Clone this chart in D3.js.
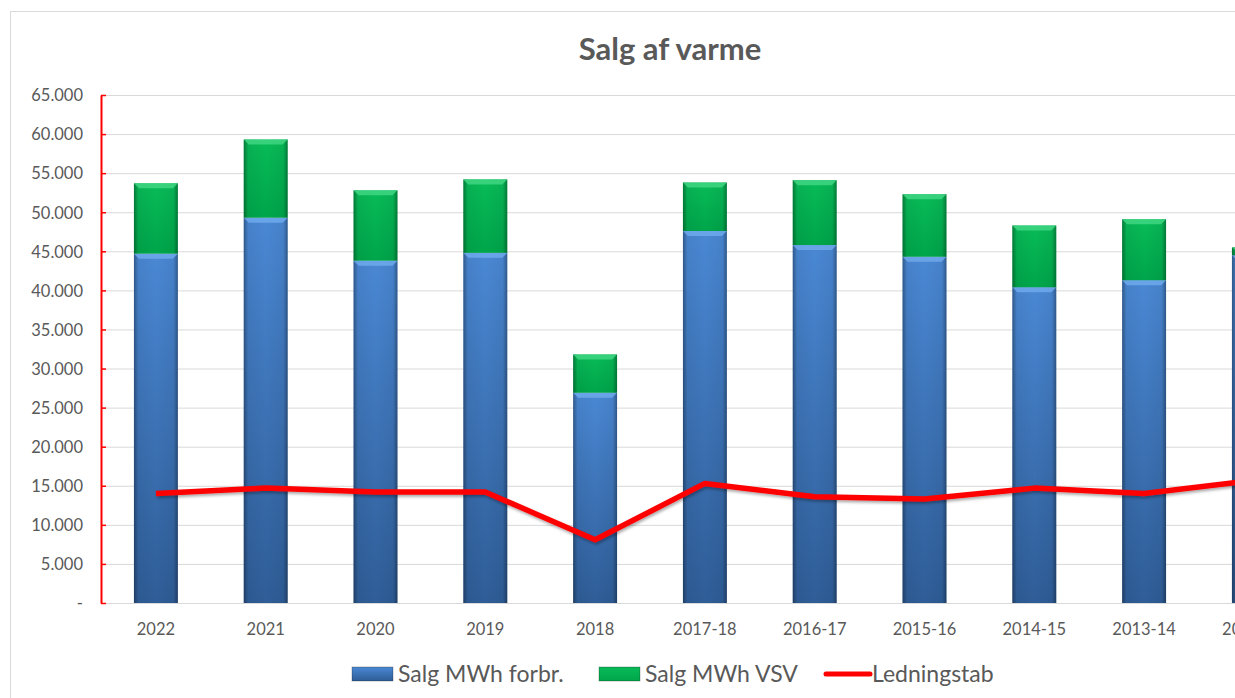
<!DOCTYPE html>
<html>
<head>
<meta charset="utf-8">
<script src="https://d3js.org/d3.v7.min.js"></script>
<style>
  body { margin: 0; background: #fff; }
  text { font-family: Lato, "Open Sans", sans-serif; fill: #595959; }
</style>
</head>
<body>
<script>
// Data (MWh)
var categories = ["2022", "2021", "2020", "2019", "2018", "2017-18", "2016-17", "2015-16", "2014-15", "2013-14", "2012-13"];
var salgForbr = [44700, 49300, 43800, 44800, 26900, 47600, 45800, 44300, 40400, 41300, 44500];
var salgVSV   = [9000, 10000, 9000, 9400, 4900, 6200, 8300, 8000, 7900, 7800, 1000];
var ledningstab = [14000, 14700, 14200, 14200, 8100, 15300, 13600, 13300, 14700, 14000, 15700];
var yTicks = d3.range(0, 65001, 5000);

var width = 1235, height = 698;
var marginLeft = 101, marginTop = 95, plotH = 508, step = 109.8;

var svg = d3.select("body").append("svg")
    .attr("width", width)
    .attr("height", height);

var defs = svg.append("defs");

function vGrad(id, c1, c2) {
    var g = defs.append("linearGradient").attr("id", id)
        .attr("x1", 0).attr("y1", 0).attr("x2", 0).attr("y2", 1);
    g.append("stop").attr("offset", "0%").attr("stop-color", c1);
    g.append("stop").attr("offset", "100%").attr("stop-color", c2);
}
vGrad("blueGrad", "#4a88d4", "#2f5d97");
vGrad("greenGrad", "#08bb58", "#00a64a");

// darker edges on the bars
var edge = defs.append("linearGradient").attr("id", "edgeGrad")
    .attr("x1", 0).attr("y1", 0).attr("x2", 1).attr("y2", 0);
[[0, 0.35], [0.1, 0.05], [0.5, 0], [0.9, 0.05], [1, 0.35]].forEach(function (s) {
    edge.append("stop").attr("offset", s[0]).attr("stop-color", "#000").attr("stop-opacity", s[1]);
});

var shadow = defs.append("filter").attr("id", "shadow")
    .attr("x", "-5%").attr("y", "-50%").attr("width", "110%").attr("height", "200%");
shadow.append("feDropShadow").attr("dx", 1).attr("dy", 2).attr("stdDeviation", 1.5)
    .attr("flood-color", "#000").attr("flood-opacity", 0.35);

// chart border
svg.append("rect")
    .attr("x", 10.5).attr("y", 11.5)
    .attr("width", 1400).attr("height", 720)
    .attr("fill", "none").attr("stroke", "#d9d9d9");

var x = d3.scaleBand()
    .domain(categories)
    .range([marginLeft, marginLeft + step * categories.length])
    .paddingInner(0.6)
    .paddingOuter(0.3);

var y = d3.scaleLinear()
    .domain([0, 65000])
    .range([marginTop + plotH, marginTop]);

// gridlines
svg.append("g").selectAll("line")
    .data(yTicks.slice(1))
    .enter().append("line")
    .attr("x1", marginLeft).attr("x2", marginLeft + step * categories.length)
    .attr("y1", function (d) { return y(d) + 0.5; })
    .attr("y2", function (d) { return y(d) + 0.5; })
    .attr("stroke", "#d9d9d9").attr("stroke-width", 1);

// x baseline
svg.append("line")
    .attr("x1", marginLeft).attr("x2", marginLeft + step * categories.length)
    .attr("y1", y(0) + 0.5).attr("y2", y(0) + 0.5)
    .attr("stroke", "#d9d9d9");

// stacked bars
var stackData = categories.map(function (c, i) {
    return { cat: c, forbr: salgForbr[i], vsv: salgVSV[i] };
});
var series = d3.stack().keys(["forbr", "vsv"])(stackData);
var fills = { forbr: "url(#blueGrad)", vsv: "url(#greenGrad)" };
var bevels = { forbr: "#6fa9ec", vsv: "#3fd683" };

series.forEach(function (s) {
    var g = svg.append("g");
    var seg = g.selectAll("g").data(s).enter().append("g");
    seg.append("rect")
        .attr("x", function (d) { return x(d.data.cat); })
        .attr("y", function (d) { return y(d[1]); })
        .attr("width", x.bandwidth())
        .attr("height", function (d) { return y(d[0]) - y(d[1]); })
        .attr("fill", fills[s.key]);
    seg.append("rect")
        .attr("x", function (d) { return x(d.data.cat); })
        .attr("y", function (d) { return y(d[1]); })
        .attr("width", x.bandwidth())
        .attr("height", function (d) { return y(d[0]) - y(d[1]); })
        .attr("fill", "url(#edgeGrad)");
    // top bevel
    seg.append("path")
        .attr("d", function (d) {
            var x0 = x(d.data.cat), x1 = x0 + x.bandwidth(), yt = y(d[1]);
            var h = Math.min(5, (y(d[0]) - yt) / 2);
            return "M" + x0 + "," + yt + "L" + x1 + "," + yt +
                "L" + (x1 - 5) + "," + (yt + h) + "L" + (x0 + 5) + "," + (yt + h) + "Z";
        })
        .attr("fill", bevels[s.key])
        .attr("opacity", 0.85);
});

// Ledningstab line
var line = d3.line()
    .x(function (d, i) { return x(categories[i]) + x.bandwidth() / 2; })
    .y(function (d) { return y(d); });

svg.append("path")
    .datum(ledningstab)
    .attr("d", line)
    .attr("fill", "none")
    .attr("stroke", "#ff0000")
    .attr("stroke-width", 5.5)
    .attr("stroke-linejoin", "round")
    .attr("filter", "url(#shadow)");

// y axis
var yAxis = svg.append("g")
    .attr("transform", "translate(" + marginLeft + ",0)")
    .call(d3.axisLeft(y)
        .tickValues(yTicks)
        .tickSizeInner(-5)
        .tickSizeOuter(0)
        .tickPadding(18)
        .tickFormat(function (d) { return d === 0 ? "-" : d3.format(",")(d).replace(/,/g, "."); }));
yAxis.select(".domain").attr("stroke", "#ff0000").attr("stroke-width", 2);
yAxis.selectAll(".tick line").attr("stroke", "#ff0000").attr("stroke-width", 1.5);
yAxis.selectAll(".tick text")
    .style("font-size", "16.5px").attr("fill", "#595959")
    .attr("dy", "0.35em");

// x axis labels
var xAxis = svg.append("g")
    .attr("transform", "translate(0," + (marginTop + plotH) + ")")
    .call(d3.axisBottom(x).tickSize(0).tickPadding(20));
xAxis.select(".domain").remove();
xAxis.selectAll(".tick text")
    .style("font-size", "16.5px").attr("fill", "#595959");

// title
svg.append("text")
    .attr("x", 670).attr("y", 60)
    .attr("text-anchor", "middle")
    .style("font-size", "31px").style("font-weight", "bold")
    .attr("fill", "#595959")
    .text("Salg af varme");

// legend
var legendItems = [
    { label: "Salg MWh forbr.", type: "rect", fill: "url(#blueGrad)", x: 352 },
    { label: "Salg MWh VSV", type: "rect", fill: "url(#greenGrad)", x: 599 },
    { label: "Ledningstab", type: "line", fill: "#ff0000", x: 826 }
];
var lg = svg.append("g").attr("transform", "translate(0,674)");
legendItems.forEach(function (d) {
    if (d.type === "rect") {
        lg.append("rect").attr("x", d.x).attr("y", -7).attr("width", 41).attr("height", 14)
            .attr("fill", d.fill).attr("stroke", "rgba(0,0,0,0.25)");
    } else {
        lg.append("line").attr("x1", d.x).attr("x2", d.x + 44).attr("y1", 0).attr("y2", 0)
            .attr("stroke", d.fill).attr("stroke-width", 5).attr("stroke-linecap", "round");
    }
    lg.append("text").attr("x", d.x + 46).attr("y", 0).attr("dy", "0.35em")
        .style("font-size", "23px").attr("fill", "#595959").text(d.label);
});
</script>
</body>
</html>
